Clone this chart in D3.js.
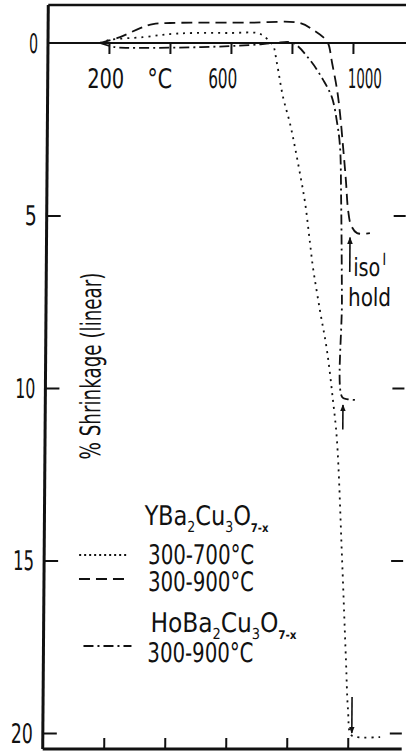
<!DOCTYPE html>
<html>
<head>
<meta charset="utf-8">
<script src="https://cdn.jsdelivr.net/npm/d3@7"></script>
<style>
  body { margin: 0; background: #fff; }
  svg { display: block; }
  text { font-family: "Liberation Sans Narrow", "DejaVu Sans Condensed", "Roboto Condensed", sans-serif; fill: #111; }
</style>
</head>
<body>
<div id="chart"></div>
<script>
// temperature ticks (°C) and their labels
const xTicks = [200, 400, 600, 800, 1000];
const xTickLabels = ["200", "°C", "600", "", "1000"];
const yTicks = [0, 5, 10, 15, 20];

// YBa2Cu3O7-x, 300-700°C (dotted)
const dottedT = [170, 203, 311, 400, 475, 597, 685, 708, 728, 738, 751, 772, 795, 812, 829, 847, 864, 874, 898, 922, 943, 957, 977, 992, 1000, 1010, 1030, 1106];
const dottedS = [0, -0.09, -0.17, -0.26, -0.29, -0.29, -0.29, -0.2, -0.03, 0.06, 0.58, 1.57, 2.32, 3.01, 3.77, 4.64, 5.8, 6.49, 7.74, 8.9, 10.35, 11.5, 14.99, 17.88, 19.33, 20.05, 20.12, 20.12];

// YBa2Cu3O7-x, 300-900°C (dashed)
const dashedT = [170, 236, 302, 344, 400, 498, 662, 826, 869, 902, 918, 932, 949, 959, 970, 980, 988, 998, 1018, 1060];
const dashedS = [0, -0.17, -0.43, -0.55, -0.58, -0.59, -0.59, -0.58, -0.38, -0.17, 0, 0.58, 1.36, 2.03, 3.01, 3.97, 4.84, 5.28, 5.51, 5.51];

// HoBa2Cu3O7-x, 300-900°C (dash-dot)
const dashDotT = [170, 220, 269, 498, 662, 744, 803, 859, 903, 932, 950, 960, 965, 970, 973, 989, 1025];
const dashDotS = [0, 0.12, 0.14, 0.12, 0.06, 0, 0, 0.49, 1.07, 1.57, 2.32, 3.01, 4.55, 7.45, 10.26, 10.32, 10.35];

// arrows marking the isothermal hold
const arrowT = [995, 976, 1013];
const arrowFrom = [6.64, 11.2, 18.96];
const arrowTo = [5.64, 10.49, 20.0];

const width = 406, height = 752;

const svg = d3.select('#chart').append('svg')
    .attr('width', width)
    .attr('height', height);

svg.append('defs').append('marker')
    .attr('id', 'head')
    .attr('viewBox', '0 0 10 10')
    .attr('refX', 9).attr('refY', 5)
    .attr('markerWidth', 7).attr('markerHeight', 9)
    .attr('markerUnits', 'userSpaceOnUse')
    .attr('orient', 'auto')
    .append('path')
    .attr('d', 'M0,1 L10,5 L0,9 Z')
    .attr('fill', '#111');

var x = d3.scaleLinear().domain([0, 1000]).range([48, 353]);
var y = d3.scaleLinear().domain([0, 20]).range([43, 733]);

// the scanned figure leans a little to the left towards the bottom
var k = 0.0075;
var g = svg.append('g')
    .attr('transform', 'matrix(1,0,' + (-k) + ',1,' + (k * 43) + ',0)');

var xMax = x.invert(407), yTop = y.invert(5), yBot = y.invert(749);

// frame
g.append('line').attr('x1', x(0)).attr('x2', x(xMax)).attr('y1', y(yTop)).attr('y2', y(yTop))
    .attr('stroke', '#111').attr('stroke-width', 2.5);
g.append('line').attr('x1', x(0)).attr('x2', x(xMax)).attr('y1', y(yBot)).attr('y2', y(yBot))
    .attr('stroke', '#111').attr('stroke-width', 3);
g.append('line').attr('x1', x(0)).attr('x2', x(0)).attr('y1', y(yTop)).attr('y2', y(yBot))
    .attr('stroke', '#111').attr('stroke-width', 3);
g.append('line').attr('x1', x(0)).attr('x2', x(xMax)).attr('y1', y(0)).attr('y2', y(0))
    .attr('stroke', '#111').attr('stroke-width', 2.2);

// ticks through d3 axes
function tickStyle(sel) {
    sel.select('.domain').remove();
    sel.selectAll('line').attr('stroke', '#111').attr('stroke-width', 2);
}
g.append('g').attr('transform', 'translate(0,' + y(0) + ')')
    .call(d3.axisBottom(x).tickValues(xTicks).tickSize(11).tickFormat(''))
    .call(tickStyle);
g.append('g').attr('transform', 'translate(0,' + y(yBot) + ')')
    .call(d3.axisTop(x).tickValues(xTicks).tickSize(11).tickFormat(''))
    .call(tickStyle);
g.append('g').attr('transform', 'translate(' + x(0) + ',0)')
    .call(d3.axisRight(y).tickValues(yTicks.slice(1)).tickSize(14).tickFormat(''))
    .call(tickStyle);
g.append('g').attr('transform', 'translate(' + x(xMax) + ',0)')
    .call(d3.axisLeft(y).tickValues(yTicks.slice(1)).tickSize(12).tickFormat(''))
    .call(tickStyle);

// tick labels (scanned typeface is narrow, so widths are pinned)
var yLabW = [9, 12, 20, 21, 22];
g.selectAll('.ylab').data(yTicks).enter().append('text')
    .attr('x', x(0) - 10)
    .attr('y', d => y(d) + 10)
    .attr('text-anchor', 'end')
    .attr('font-size', 27)
    .attr('textLength', (d, i) => yLabW[i])
    .attr('lengthAdjust', 'spacingAndGlyphs')
    .text(d => d);

var xLabOffset = [-3, -10, -8, 0, 12];
var xLabW = [37, 25, 29, 0, 34];
g.selectAll('.xlab').data(xTicks).enter().append('text')
    .filter((d, i) => xTickLabels[i] !== '')
    .attr('x', d => x(d) + xLabOffset[xTicks.indexOf(d)])
    .attr('y', y(0) + 45)
    .attr('text-anchor', 'middle')
    .attr('font-size', 27)
    .attr('textLength', d => xLabW[xTicks.indexOf(d)])
    .attr('lengthAdjust', 'spacingAndGlyphs')
    .text(d => xTickLabels[xTicks.indexOf(d)]);

// y axis title
g.append('text')
    .attr('transform', 'translate(103,366) rotate(-90)')
    .attr('text-anchor', 'middle')
    .attr('font-size', 28)
    .attr('textLength', 187)
    .attr('lengthAdjust', 'spacingAndGlyphs')
    .text('% Shrinkage (linear)');

// curves
var line = d3.line()
    .x(d => x(d[0]))
    .y(d => y(d[1]))
    .curve(d3.curveCatmullRom.alpha(0.5));

var series = [
    { t: dottedT, s: dottedS, dash: '2,5' },
    { t: dashedT, s: dashedS, dash: '11,6' },
    { t: dashDotT, s: dashDotS, dash: '10,4,2,4' }
];
series.forEach(function(sr) {
    g.append('path')
        .datum(d3.zip(sr.t, sr.s))
        .attr('d', line)
        .attr('fill', 'none')
        .attr('stroke', '#111')
        .attr('stroke-width', 1.8)
        .attr('stroke-dasharray', sr.dash);
});

// arrows
arrowT.forEach(function(t, i) {
    g.append('line')
        .attr('x1', x(t)).attr('x2', x(t))
        .attr('y1', y(arrowFrom[i])).attr('y2', y(arrowTo[i]))
        .attr('stroke', '#111').attr('stroke-width', 1.6)
        .attr('marker-end', 'url(#head)');
});

// isothermal hold note
var iso = g.append('text')
    .attr('x', x(1000) + 2)
    .attr('y', y(5.5) + 43)
    .attr('font-size', 25);
iso.append('tspan').attr('textLength', 27).attr('lengthAdjust', 'spacingAndGlyphs').text('iso');
iso.append('tspan').attr('dy', -11).attr('dx', 2).attr('font-size', 16).text('l');
g.append('text')
    .attr('x', x(1000) - 3)
    .attr('y', y(5.5) + 73)
    .attr('font-size', 25)
    .attr('textLength', 43)
    .attr('lengthAdjust', 'spacingAndGlyphs')
    .text('hold');

// legend
function formula(el, parts) {
    var shifted = false;
    parts.forEach(function(p) {
        var ts = el.append('tspan').text(p[0]);
        if (p[1] === 1) { ts.attr('font-size', 15).attr('dy', shifted ? 0 : 7); shifted = true; }
        else if (p[1] === 2) { ts.attr('font-size', 12).attr('font-weight', 'bold').attr('dy', shifted ? 0 : 7); shifted = true; }
        else { ts.attr('dy', shifted ? -7 : 0); shifted = false; }
    });
}
var leg1 = g.append('text').attr('x', 148).attr('y', 525).attr('font-size', 27)
    .attr('textLength', 124).attr('lengthAdjust', 'spacingAndGlyphs');
formula(leg1, [['YBa', 0], ['2', 1], ['Cu', 0], ['3', 1], ['O', 0], ['7-x', 2]]);
g.append('text').attr('x', 152).attr('y', 564).attr('font-size', 27)
    .attr('textLength', 106).attr('lengthAdjust', 'spacingAndGlyphs').text('300-700°C');
g.append('text').attr('x', 152).attr('y', 591).attr('font-size', 27)
    .attr('textLength', 106).attr('lengthAdjust', 'spacingAndGlyphs').text('300-900°C');
var leg2 = g.append('text').attr('x', 155).attr('y', 632).attr('font-size', 27)
    .attr('textLength', 146).attr('lengthAdjust', 'spacingAndGlyphs');
formula(leg2, [['HoBa', 0], ['2', 1], ['Cu', 0], ['3', 1], ['O', 0], ['7-x', 2]]);
g.append('text').attr('x', 152).attr('y', 662).attr('font-size', 27)
    .attr('textLength', 106).attr('lengthAdjust', 'spacingAndGlyphs').text('300-900°C');

var legSamples = [
    { y: 555, dash: '2,3', x1: 83, x2: 133 },
    { y: 579, dash: '11,6', x1: 83, x2: 133 },
    { y: 646, dash: '10,4,2,4', x1: 88, x2: 136 }
];
legSamples.forEach(function(l) {
    g.append('line')
        .attr('x1', l.x1).attr('x2', l.x2).attr('y1', l.y).attr('y2', l.y)
        .attr('stroke', '#111').attr('stroke-width', 1.8)
        .attr('stroke-dasharray', l.dash);
});
</script>
</body>
</html>
